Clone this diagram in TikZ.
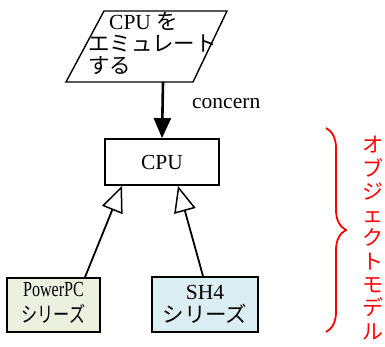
\documentclass[tikz,border=0pt]{standalone}
\usepackage{fontspec}
\setmainfont{Liberation Serif}
\newfontfamily\jp{Noto Sans CJK JP}
\usetikzlibrary{arrows.meta,decorations.pathreplacing,calc}
\begin{document}
\begin{tikzpicture}[x=1pt,y=-1pt,
  txt/.style={font=\fontsize{21.5}{22}\selectfont, inner sep=0pt},
  box/.style={draw=black, line width=1.8pt, minimum height=48pt, inner sep=0pt, align=center, font=\fontsize{21.5}{22}\selectfont},
  inh/.style={line width=1.8pt, -{Triangle[open,width=22pt,length=26pt,line width=1.5pt,fill=white]}},
]
\useasboundingbox (0,0) rectangle (385,347);
% task parallelogram
\draw[line width=1.4pt] (104,11) -- (227,11) -- (193,82) -- (66,82) -- cycle;
\node[txt, anchor=base west] (t1) at (109,30) {CPU {\jp を}};
\node[txt, anchor=base west] (t2) at (88,52) {\jp エミュレート};
\node[txt, anchor=base west] (t3) at (88,74) {\jp する};
\coordinate (tb) at (163,82);
% CPU
\node[box, minimum width=114pt, minimum height=46pt] (cpu) at (162,162) {CPU};
\draw[line width=2.6pt, -{Triangle[width=17pt,length=20pt]}] (tb) -- (cpu.north);
\node[txt, anchor=base west] (concern) at (192,109) {concern};
% subclasses
\node[box, fill={rgb,255:red,235;green,241;blue,222}, minimum width=93pt, minimum height=54pt] (ppc) at (53.5,305)
  {\scalebox{0.75}[1]{\begin{tabular}{@{}c@{}}PowerPC\\[1pt]{\jp シリーズ}\end{tabular}}};
\node[box, fill={rgb,255:red,219;green,238;blue,244}, minimum width=106pt, minimum height=55pt] (sh4) at (205,304.5)
  {SH4\\[1pt]{\jp シリーズ}};
\draw[inh] ([xshift=31.5pt]ppc.north) -- ([xshift=-40pt]cpu.south);
\draw[inh] ([xshift=-2pt]sh4.north) -- ([xshift=16pt]cpu.south);
% brace
\draw[red, line width=1.8pt, decorate, decoration={brace, amplitude=20pt}] (326,128) -- (326,332);
\node[red, inner sep=0pt, align=center, font=\jp\fontsize{21}{23.3}\selectfont] (model) at (373,238)
  {オ\\ブ\\ジ\\ェ\\ク\\ト\\モ\\デ\\ル};
\end{tikzpicture}
\end{document}
